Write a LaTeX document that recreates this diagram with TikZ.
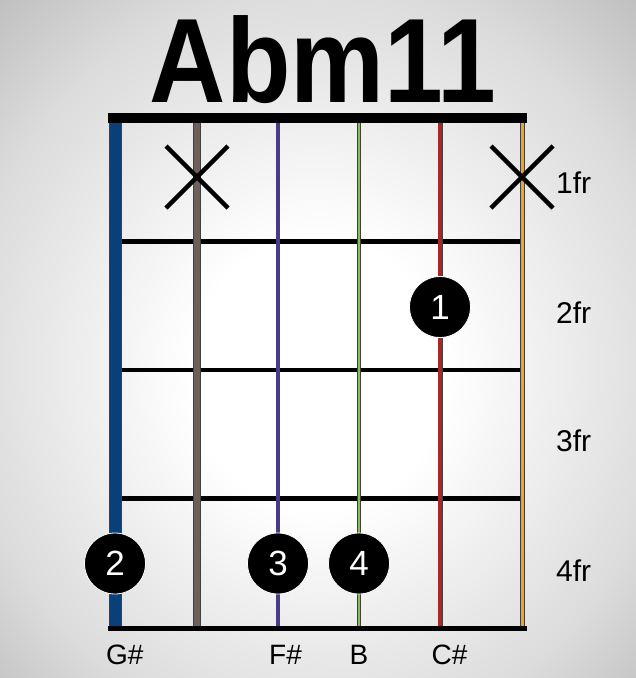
\documentclass[tikz,border=0pt]{standalone}
\usepackage{fontspec}
\setmainfont{Liberation Sans}
\pgfdeclareradialshading{bgshade}{\pgfpoint{0bp}{-3bp}}{%
  color(0bp)=(white);
  color(10bp)=(white);
  color(28bp)=(black!14);
  color(50bp)=(black!42);
  color(72bp)=(black!62)}
\definecolor{sBlue}{HTML}{0B3F7A}
\definecolor{sBrown}{HTML}{6E5F5A}
\definecolor{sPurple}{HTML}{4B3B86}
\definecolor{sGreen}{HTML}{86BE58}
\definecolor{sRed}{HTML}{A82828}
\definecolor{sOrange}{HTML}{EDA522}
\tikzset{
  fretline/.style={line width=4.5pt, black},
  xmark/.style={line width=4.5pt, black},
  dot/.style={circle, fill=black, draw=white, line width=0.8pt, minimum size=61pt, inner sep=0pt,
    text=white, font=\fontsize{35}{35}\selectfont},
  frlabel/.style={anchor=base west, inner sep=0pt, font=\fontsize{30}{30}\selectfont},
  notelabel/.style={anchor=base west, inner sep=0pt, font=\fontsize{28}{28}\selectfont},
  title/.style={inner sep=0pt, anchor=base, font=\fontsize{120}{120}\selectfont\bfseries, xscale=0.88},
}
\begin{document}
\begin{tikzpicture}[x=1pt, y=-1pt]
\useasboundingbox (0,0) rectangle (636,678);
\shade[shading=bgshade] (0,0) rectangle (636,678);
% title
\node[title] (ttl) at (323,102.5) {Abm11};
% frets
\foreach \y/\n in {241.5/f1, 370/f2, 498.5/f3} {
  \coordinate (\n L) at (122,\y);
  \coordinate (\n R) at (520,\y);
  \draw[fretline] (\n L) -- (\n R);
}
\coordinate (bL) at (108,628.5);
\coordinate (bR) at (527,628.5);
\draw[line width=5pt] (bL) -- (bR);
% strings
\foreach \x/\c/\w/\n in {115.5/sBlue/13/s1, 197/sBrown/8/s2, 278/sPurple/4.5/s3, 359/sGreen/3.5/s4, 440/sRed/5/s5, 522.5/sOrange/4.5/s6} {
  \coordinate (\n T) at (\x,122);
  \coordinate (\n B) at (\x,626);
  \draw[line width=\w pt, black!75] (\n T) -- (\n B);
  \draw[line width=\w pt - 1.4pt, \c] (\n T) -- (\n B);
}
% nut
\fill[black] (108,113) rectangle (527,122.5);
% X marks
\foreach \x/\n in {197/xa, 522/xb} {
  \coordinate (\n c) at (\x,177);
  \draw[xmark] ([shift={(-31,-31)}]\n c) -- ([shift={(31,31)}]\n c);
  \draw[xmark] ([shift={(-31,31)}]\n c) -- ([shift={(31,-31)}]\n c);
}
% finger dots
\node[dot] (d1) at (440,307) {1};
\node[dot] (d2) at (115,563.5) {2};
\node[dot] (d3) at (278,563.5) {3};
\node[dot] (d4) at (359,563.5) {4};
% fret labels
\node[frlabel] (fr1) at (556,193.5) {1fr};
\node[frlabel] (fr2) at (556,323) {2fr};
\node[frlabel] (fr3) at (556,451) {3fr};
\node[frlabel] (fr4) at (556,581.5) {4fr};
% note labels
\node[notelabel] (n1) at (106,664) {G\#};
\node[notelabel] (n3) at (269,664) {F\#};
\node[notelabel] (n4) at (349.5,664) {B};
\node[notelabel] (n5) at (431.5,664) {C\#};
\end{tikzpicture}
\end{document}
